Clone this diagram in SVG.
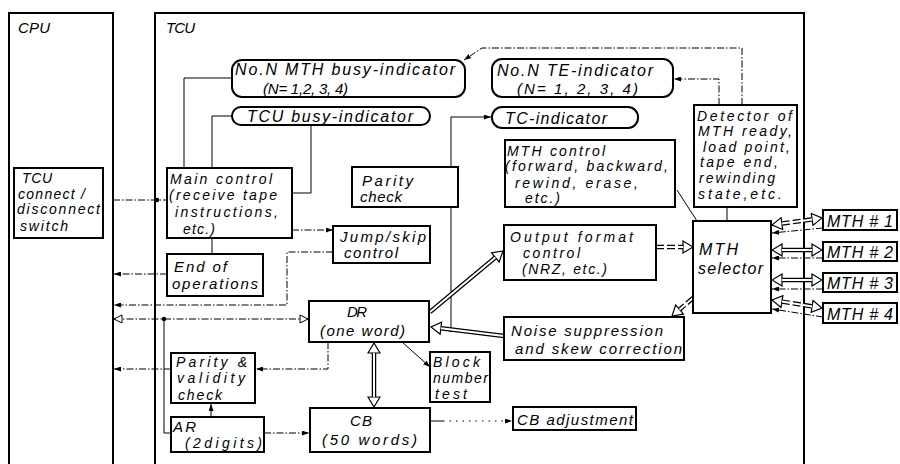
<svg xmlns="http://www.w3.org/2000/svg" width="900" height="464" viewBox="0 0 900 464">
<style>
text{font-family:"Liberation Sans",Arial,sans-serif;font-style:italic;font-size:15px;fill:#000}
.s14{font-size:14px}
.s16{font-size:16px}
.box{fill:#fff;stroke:#000;stroke-width:2}
.frame{fill:none;stroke:#000;stroke-width:2}
.ln{fill:none;stroke:#000;stroke-width:1}
.dash{stroke-dasharray:7 2 1.5 2}
.dot{stroke-dasharray:1.5 5}
.o{fill:none;stroke:#000;stroke-width:4.5}
.i{fill:none;stroke:#fff;stroke-width:2}
.od{fill:none;stroke:#000;stroke-width:4.5;stroke-dasharray:8 3}
</style>
<defs>
<marker id="fa" viewBox="0 0 7 5" refX="7" refY="2.5" markerWidth="7" markerHeight="5" markerUnits="userSpaceOnUse" orient="auto-start-reverse"><path d="M0,0 L7,2.5 L0,5 z" fill="#000"/></marker>
<marker id="ha" viewBox="-1 -1 12 14" refX="0" refY="6" markerWidth="12" markerHeight="14" markerUnits="userSpaceOnUse" orient="auto-start-reverse"><path d="M0,0 L10,6 L0,12 z" fill="#fff" stroke="#000" stroke-width="1.2"/></marker>
<marker id="hs" viewBox="-1 -1 10 10" refX="8" refY="4" markerWidth="10" markerHeight="10" markerUnits="userSpaceOnUse" orient="auto-start-reverse"><path d="M0,0 L8,4 L0,8 z" fill="#fff" stroke="#000" stroke-width="1"/></marker>
</defs>
<rect width="900" height="464" fill="#fff"/>

<g id="cpu"><path class="frame" d="M9,464 V13 H113 V464"/><text x="18" y="33" textLength="32" lengthAdjust="spacing">CPU</text></g>
<g id="tcu"><path class="frame" d="M155,464 V13 H804 V464"/><text x="166" y="33" textLength="29" lengthAdjust="spacing">TCU</text></g>

<g id="connectors">
<path class="ln" d="M232,78 H184 V168"/>
<path class="ln" d="M232,116 H212 V168"/>
<path class="ln" d="M311,125 V193 H292"/>
<path class="ln dash" d="M292,230 H333" marker-end="url(#fa)"/>
<path class="ln dash" d="M333,252 H287 V305 H114" marker-end="url(#fa)"/>
<path class="ln dash" d="M167,274 H114" marker-end="url(#fa)"/>
<path class="ln" d="M212,238 V254"/>
<path class="ln dash" d="M113,200 H167"/>
<circle cx="157" cy="200" r="2.2"/>
<path class="ln" d="M451,330 V117 H491" marker-end="url(#fa)"/>
<circle cx="451" cy="330" r="2.2"/>
<path class="ln" d="M677,190 L697,221"/>
<path class="ln" d="M727,207 V221"/>
<path class="ln dash" d="M719,105 V79 H674" marker-end="url(#fa)"/>
<path class="ln dash" d="M742,105 V48 H482 L464,60" marker-end="url(#fa)"/>
<path class="od" d="M656,247 H683" marker-end="url(#ha)"/><path class="i" d="M656,247 H683"/>
<path class="od" d="M693,298 L679.6,309.5" marker-end="url(#ha)"/><path class="i" d="M693,298 L679.6,309.5"/>
<path class="o" d="M430,312 L495.3,257.4" marker-end="url(#ha)"/><path class="i" d="M430,312 L495.3,257.4"/>
<path class="o" d="M504,336 L440.9,328.2" marker-end="url(#ha)"/><path class="i" d="M504,336 L440.9,328.2"/>
<path class="o" d="M374,353 V397" marker-start="url(#ha)" marker-end="url(#ha)"/><path class="i" d="M374,353 V397"/>
<path class="od" d="M781.9,223.6 L812.1,219.4" marker-start="url(#ha)" marker-end="url(#ha)"/><path class="i" d="M781.9,223.6 L812.1,219.4"/>
<path class="o" d="M782,250 H812" marker-start="url(#ha)" marker-end="url(#ha)"/><path class="i" d="M782,250 H812"/>
<path class="o" d="M782,280 H812" marker-start="url(#ha)" marker-end="url(#ha)"/><path class="i" d="M782,280 H812"/>
<path class="od" d="M781.9,301.6 L812.1,306.4" marker-start="url(#ha)" marker-end="url(#ha)"/><path class="i" d="M781.9,301.6 L812.1,306.4"/>
<path class="ln dash" d="M823,228 L772,233" marker-end="url(#fa)"/>
<path class="ln dash" d="M823,258 H772" marker-end="url(#fa)"/>
<path class="ln dash" d="M823,289 H772" marker-end="url(#fa)"/>
<path class="ln dash" d="M823,317 L772,309" marker-end="url(#fa)"/>
<path class="ln dash" d="M114,319 H308" marker-start="url(#hs)" marker-end="url(#hs)"/>
<circle cx="164" cy="319" r="2.2"/>
<path class="ln" d="M164,319 V433 H171"/>
<path class="ln dash" d="M171,369 H114" marker-end="url(#fa)"/>
<path class="ln dash" d="M328,342 V369 H256" marker-end="url(#fa)"/>
<path class="ln" d="M211,417 V404" marker-end="url(#fa)"/>
<path class="ln dash" d="M264,433 H309" marker-end="url(#fa)"/>
<path class="ln" d="M402,342 L430,367" marker-end="url(#fa)"/>
<path class="ln dot" d="M443,421 H512" marker-end="url(#fa)"/>
<path class="ln" d="M431,421 H443" stroke-width="2.5"/>
</g>

<g id="mth-busy"><rect class="box" x="232" y="60" width="233" height="37" rx="10"/><text class="s16" x="235" y="75" textLength="220" lengthAdjust="spacing">No.N MTH busy-indicator</text><text x="263" y="94" textLength="85" lengthAdjust="spacing">(N= 1,2, 3, 4)</text></g>
<g id="tcu-busy"><rect class="box" x="232" y="107" width="198" height="18" rx="9"/><text class="s16" x="247" y="122" textLength="166" lengthAdjust="spacing">TCU busy-indicator</text></g>
<g id="te-ind"><rect class="box" x="492" y="59" width="181" height="38" rx="10"/><text class="s16" x="497" y="76" textLength="156" lengthAdjust="spacing">No.N  TE-indicator</text><text x="517" y="94" textLength="121" lengthAdjust="spacing">(N= 1, 2, 3, 4)</text></g>
<g id="tc-ind"><rect class="box" x="492" y="107" width="146" height="21" rx="10"/><text class="s16" x="505" y="124" textLength="102" lengthAdjust="spacing">TC-indicator</text></g>
<g id="switch"><rect class="box" x="14" y="168" width="89" height="70"/><text class="s14" x="22" y="183" textLength="30" lengthAdjust="spacing">TCU</text><text class="s14" x="18" y="199" textLength="67" lengthAdjust="spacing">connect /</text><text class="s14" x="17" y="214" textLength="83" lengthAdjust="spacing">disconnect</text><text class="s14" x="20" y="231" textLength="48" lengthAdjust="spacing">switch</text></g>
<g id="main-control"><rect class="box" x="167" y="168" width="125" height="70"/><text class="s14" x="170" y="184" textLength="102" lengthAdjust="spacing">Main control</text><text class="s14" x="169" y="200" textLength="108" lengthAdjust="spacing">(receive tape</text><text class="s14" x="175" y="217" textLength="103" lengthAdjust="spacing">instructions,</text><text class="s14" x="183" y="234" textLength="32" lengthAdjust="spacing">etc.)</text></g>
<g id="end-ops"><rect class="box" x="167" y="254" width="96" height="42"/><text x="174" y="272" textLength="53" lengthAdjust="spacing">End of</text><text x="172" y="289" textLength="86" lengthAdjust="spacing">operations</text></g>
<g id="parity-check"><rect class="box" x="352" y="167" width="106" height="40"/><text x="362" y="186" textLength="51" lengthAdjust="spacing">Parity</text><text x="360" y="202" textLength="42" lengthAdjust="spacing">check</text></g>
<g id="jump"><rect class="box" x="333" y="226" width="97" height="37"/><text x="340" y="242" textLength="86" lengthAdjust="spacing">Jump/skip</text><text x="344" y="258" textLength="54" lengthAdjust="spacing">control</text></g>
<g id="mth-control"><rect class="box" x="505" y="140" width="170" height="67"/><text class="s14" x="507" y="156" textLength="98" lengthAdjust="spacing">MTH control</text><text class="s14" x="505" y="171" textLength="163" lengthAdjust="spacing">(forward, backward,</text><text class="s14" x="515" y="188" textLength="123" lengthAdjust="spacing">rewind, erase,</text><text class="s14" x="525" y="203" textLength="35" lengthAdjust="spacing">etc.)</text></g>
<g id="output-format"><rect class="box" x="504" y="225" width="152" height="55"/><text class="s14" x="510" y="242" textLength="123" lengthAdjust="spacing">Output format</text><text class="s14" x="523" y="258" textLength="57" lengthAdjust="spacing">control</text><text class="s14" x="522" y="274" textLength="85" lengthAdjust="spacing">(NRZ, etc.)</text></g>
<g id="detector"><rect class="box" x="694" y="105" width="103" height="102"/><text class="s14" x="697" y="121" textLength="95" lengthAdjust="spacing">Detector of</text><text class="s14" x="698" y="136" textLength="94" lengthAdjust="spacing">MTH ready,</text><text class="s14" x="703" y="152" textLength="87" lengthAdjust="spacing">load point,</text><text class="s14" x="700" y="167" textLength="78" lengthAdjust="spacing">tape end,</text><text class="s14" x="699" y="183" textLength="76" lengthAdjust="spacing">rewinding</text><text class="s14" x="698" y="199" textLength="84" lengthAdjust="spacing">state,etc.</text></g>
<g id="selector"><rect class="box" x="693" y="221" width="78" height="92"/><text class="s16" x="699" y="255" textLength="39" lengthAdjust="spacing">MTH</text><text class="s16" x="698" y="274" textLength="65" lengthAdjust="spacing">selector</text></g>
<g id="mth1"><rect class="box" x="823" y="210" width="74" height="20"/><text class="s16" x="827" y="227" textLength="66" lengthAdjust="spacing">MTH # 1</text></g>
<g id="mth2"><rect class="box" x="823" y="242" width="74" height="19"/><text class="s16" x="827" y="258" textLength="66" lengthAdjust="spacing">MTH # 2</text></g>
<g id="mth3"><rect class="box" x="823" y="273" width="74" height="19"/><text class="s16" x="827" y="289" textLength="66" lengthAdjust="spacing">MTH # 3</text></g>
<g id="mth4"><rect class="box" x="823" y="303" width="74" height="20"/><text class="s16" x="827" y="320" textLength="66" lengthAdjust="spacing">MTH # 4</text></g>
<g id="noise"><rect class="box" x="504" y="317" width="180" height="43"/><text x="511" y="336" textLength="152" lengthAdjust="spacing">Noise suppression</text><text x="515" y="354" textLength="167" lengthAdjust="spacing">and skew correction</text></g>
<g id="dr"><rect class="box" x="309" y="301" width="120" height="41"/><text x="347" y="317" textLength="20" lengthAdjust="spacing">DR</text><text x="320" y="336" textLength="85" lengthAdjust="spacing">(one word)</text></g>
<g id="parity-validity"><rect class="box" x="171" y="353" width="84" height="50"/><text class="s14" x="176" y="367" textLength="71" lengthAdjust="spacing">Parity &amp;</text><text class="s14" x="177" y="383" textLength="68" lengthAdjust="spacing">validity</text><text class="s14" x="178" y="400" textLength="44" lengthAdjust="spacing">check</text></g>
<g id="ar"><rect class="box" x="171" y="417" width="93" height="35"/><text x="173" y="432" textLength="23" lengthAdjust="spacing">AR</text><text class="s14" x="185" y="448" textLength="77" lengthAdjust="spacing">(2digits)</text></g>
<g id="cb"><rect class="box" x="310" y="408" width="120" height="44"/><text x="350" y="426" textLength="22" lengthAdjust="spacing">CB</text><text x="322" y="445" textLength="95" lengthAdjust="spacing">(50 words)</text></g>
<g id="block"><rect class="box" x="430" y="352" width="60" height="50"/><text class="s14" x="433" y="367" textLength="47" lengthAdjust="spacing">Block</text><text class="s14" x="433" y="383" textLength="55" lengthAdjust="spacing">number</text><text class="s14" x="435" y="399" textLength="32" lengthAdjust="spacing">test</text></g>
<g id="cb-adj"><rect class="box" x="513" y="407" width="123" height="23"/><text x="517" y="425" textLength="116" lengthAdjust="spacing">CB adjustment</text></g>
</svg>
